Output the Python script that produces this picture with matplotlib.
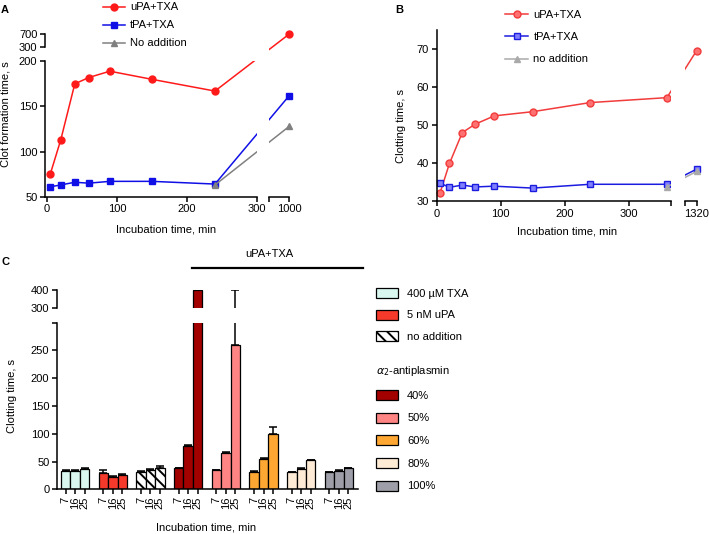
import numpy as np
import matplotlib

matplotlib.use("Agg")
import matplotlib.pyplot as plt  # noqa: E402
from matplotlib.lines import Line2D  # noqa: E402
from matplotlib.patches import Patch  # noqa: E402
from matplotlib.markers import TICKDOWN  # noqa: E402

plt.rcParams["font.family"] = ["Liberation Sans", "DejaVu Sans"]
plt.rcParams["font.size"] = 8
plt.rcParams["hatch.linewidth"] = 1.4
plt.rcParams["axes.linewidth"] = 1.1

W, H = 709, 534

# --- panel A: clot formation time ---
a_time = [5, 20, 40, 60, 90, 150, 240, 1000]
a_upa = [75, 113, 175, 182, 189, 180, 167, 700]
a_tpa = [61, 63, 66, 65, 67, 67, 64, 162]
a_none_time = [240, 1000]
a_none = [63, 128]

# --- panel B: clotting time ---
b_time = [5, 20, 40, 60, 90, 150, 240, 360, 1320]
b_upa = [32.0, 39.9, 48.0, 50.2, 52.4, 53.5, 55.9, 57.2, 69.6]
b_tpa = [34.7, 33.6, 34.2, 33.7, 33.9, 33.4, 34.4, 34.4, 38.4]
b_none_time = [360, 1320]
b_none = [33.7, 37.8]

# --- panel C: bars, 3 incubation times per group ---
c_times = ["7", "16", "25"]
c_groups = ["400 µM TXA", "5 nM uPA", "no addition", "40%", "50%", "60%", "80%", "100%"]
c_colors = ["#d9f7ee", "#f5392b", "white", "#a30000", "#ff8585", "#ffa733", "#fdebd5", "#9e9ea8"]
c_values = [
    [33, 33, 37],
    [30, 23, 26],
    [32, 35, 39],
    [38, 78, 400],
    [34, 65, 260],
    [32, 55, 100],
    [31, 37, 52],
    [31, 33, 38],
]
c_err = [
    [1, 1, 2],
    [5, 1, 1],
    [1, 1, 3],
    [1, 2, 0],
    [1, 2, 140],
    [1, 2, 12],
    [1, 1, 1],
    [1, 1, 1],
]

TICK_LEN, TICK_W, LW = 3.5, 1.1, 1.1
HATCH = "\\\\\\"


def brk(xs, ps):
    """piecewise linear scale for broken axes."""
    xs = np.asarray(xs, float)
    ps = np.asarray(ps, float)

    def fwd(v):
        return np.interp(np.asarray(v, float), xs, ps)

    def inv(p):
        return np.interp(np.asarray(p, float), ps, xs)

    return fwd, inv


def px_axes(fig, l, t, r, b):
    return fig.add_axes([l / W, 1 - b / H, (r - l) / W, (b - t) / H])


def style(ax):
    for s in ("top", "right"):
        ax.spines[s].set_visible(False)
    ax.tick_params(direction="out", length=TICK_LEN, width=TICK_W, pad=2, labelsize=8)


def xseg(ax, x0, x1):
    """extra bottom axis segment after a break."""
    tr = ax.get_xaxis_transform()
    ax.plot([x0, x1], [0, 0], color="k", lw=LW, transform=tr, clip_on=False, zorder=3)
    ax.plot([x0], [0], color="k", marker=TICKDOWN, ms=TICK_LEN, mew=TICK_W,
            transform=tr, clip_on=False, zorder=3)


fig = plt.figure(figsize=(W / 100, H / 100), dpi=100)

# ================= A =================
axA = px_axes(fig, 45, 34, 289.3, 196.7)
ax_fx, ax_ix = brk([-1e4, 300, 1e5], [-1e4, 300, 300 + (1e5 - 300) * 46 / 700])
ay_fx, ay_ix = brk([-1e4, 200, 300, 1e5], [-1e4, 200, 215.5, 215.5 + (1e5 - 300) * 0.03675])
axA.set_xscale("function", functions=(ax_fx, ax_ix))
axA.set_yscale("function", functions=(ay_fx, ay_ix))
axA.set_xlim(-2.5, 1000)
axA.set_ylim(50, 700)
style(axA)

la1, = axA.plot(a_time, a_upa, "-o", color="#ff1a1a", lw=1.1, ms=5, clip_on=False, label="uPA+TXA")
la2, = axA.plot(a_time, a_tpa, "-s", color="#1010e6", lw=1.1, ms=4.5, clip_on=False, label="tPA+TXA")
la3, = axA.plot(a_none_time, a_none, "-^", color="#808080", lw=1.1, ms=4.5, clip_on=False,
                label="No addition")

gapA = float(ax_ix(317.6))
axA.axvspan(300, gapA, color="white", lw=0, zorder=2.3)
axA.axhspan(200, 300, xmin=0, xmax=(317.6 + 2.5) / 348.5, color="white", lw=0, zorder=2.3)

axA.spines["left"].set_bounds(50, 200)
axA.spines["bottom"].set_bounds(-2.5, 300)
axA.plot([0, 0], [300, 700], color="k", lw=LW, transform=axA.get_yaxis_transform(),
         clip_on=False, zorder=3)
xseg(axA, gapA, 1000)
axA.set_xticks([0, 100, 200, 300, 1000])
axA.set_yticks([50, 100, 150, 200, 300, 700])

fig.legend(handles=[la1, la2, la3], loc="upper left", bbox_to_anchor=(103 / W, 1 - 2.5 / H),
           frameon=False, borderpad=0, borderaxespad=0, handlelength=2.0, handletextpad=0.45,
           labelspacing=0.72, fontsize=8)

fig.text(5.5 / W, 1 - 114.5 / H, "Clot formation time, s", rotation=90, ha="center", va="center")
fig.text(166 / W, 1 - 229 / H, "Incubation time, min", ha="center", va="center")

# ================= B =================
axB = px_axes(fig, 436.7, 30, 696.7, 201)
bx_fx, bx_ix = brk([-1e4, 370, 1e5], [-1e4, 370, 370 + (1e5 - 370) * 36.6 / 950])
axB.set_xscale("function", functions=(bx_fx, bx_ix))
axB.set_xlim(0, 1320)
axB.set_ylim(30, 75)
style(axB)

lb1, = axB.plot(b_time, b_upa, "-o", color="#f23b3b", mfc="#ff7070", lw=1.1, ms=5,
                clip_on=False, label="uPA+TXA")
lb2, = axB.plot(b_time, b_tpa, "-s", color="#1c1ce0", mfc="#8080ff", lw=1.1, ms=4.5,
                clip_on=False, label="tPA+TXA")
lb3, = axB.plot(b_none_time, b_none, "-^", color="#aaaaaa", lw=1.1, ms=4.5, clip_on=False,
                label="no addition")

gapB = float(bx_ix(387.8))
axB.axvspan(367, gapB, color="white", lw=0, zorder=2.3)
axB.spines["bottom"].set_bounds(0, 367)
axB.spines["left"].set_bounds(30, 75)
axB.plot([367], [0], color="k", marker=TICKDOWN, ms=TICK_LEN, mew=TICK_W,
         transform=axB.get_xaxis_transform(), clip_on=False, zorder=3)
xseg(axB, gapB, 1320)
axB.set_xticks([0, 100, 200, 300, 1320])
axB.set_yticks([30, 40, 50, 60, 70])

fig.legend(handles=[lb1, lb2, lb3], loc="upper left", bbox_to_anchor=(505 / W, 1 - 9.5 / H),
           frameon=False, borderpad=0, borderaxespad=0, handlelength=2.1, handletextpad=0.45,
           labelspacing=1.12, fontsize=8)

fig.text(401 / W, 1 - 126 / H, "Clotting time, s", rotation=90, ha="center", va="center")
fig.text(567 / W, 1 - 232 / H, "Incubation time, min", ha="center", va="center")

# ================= C =================
axC = px_axes(fig, 57, 322.7, 358.3, 489.3)
axCu = px_axes(fig, 57, 290, 358.3, 308.3)
xpos = [4 * i + j for i in range(len(c_groups)) for j in range(3)]

for ax in (axC, axCu):
    for i, (vals, errs) in enumerate(zip(c_values, c_err)):
        xs = [4 * i + j for j in range(3)]
        ax.bar(xs, vals, width=1.0, color=c_colors[i], edgecolor="k", lw=0.9,
               hatch=HATCH if c_groups[i] == "no addition" else None, zorder=2)
        ax.errorbar(xs, vals, yerr=[[0, 0, 0], errs], fmt="none", ecolor="k",
                    elinewidth=1.1, capsize=2.8, capthick=1.1, zorder=3)
    ax.set_xlim(-0.925, 31.06)
    style(ax)

axC.set_ylim(0, 300)
axC.set_yticks([0, 50, 100, 150, 200, 250, 300])
axC.set_yticklabels(["0", "50", "100", "150", "200", "250", ""])
axC.set_xticks(xpos)
axC.set_xticklabels(c_times * len(c_groups), rotation=90)

axCu.set_ylim(300, 402)
axCu.spines["left"].set_bounds(300, 400)
axCu.spines["bottom"].set_visible(False)
axCu.set_yticks([300, 400])
axCu.set_xticks([])

fig.add_artist(Line2D([192 / W, 363 / W], [1 - 268 / H] * 2, color="k", lw=1.6))
fig.text(269 / W, 1 - 254 / H, "uPA+TXA", ha="center", va="center")
fig.text(12 / W, 1 - 396 / H, "Clotting time, s", rotation=90, ha="center", va="center")
fig.text(206 / W, 1 - 527 / H, "Incubation time, min", ha="center", va="center")

h1 = [Patch(facecolor=c_colors[i], edgecolor="k", lw=0.9,
            hatch=HATCH if c_groups[i] == "no addition" else None, label=c_groups[i])
      for i in range(3)]
h2 = [Patch(facecolor=c_colors[i], edgecolor="k", lw=0.9, label=c_groups[i]) for i in range(3, 8)]
fig.legend(handles=h1, loc="upper left", bbox_to_anchor=(376 / W, 1 - 288 / H),
           frameon=False, borderpad=0, borderaxespad=0, handlelength=2.0, handleheight=1.0,
           handletextpad=0.8, labelspacing=0.98, fontsize=8)
fig.legend(handles=h2, loc="upper left", bbox_to_anchor=(376 / W, 1 - 364 / H),
           frameon=False, borderpad=0, borderaxespad=0, handlelength=2.0, handleheight=1.0,
           handletextpad=0.8, labelspacing=1.07, fontsize=8,
           title=r"$\alpha_2$-antiplasmin", title_fontsize=8, alignment="left")

fig.text(5 / W, 1 - 10 / H, "A", weight="bold", ha="center", va="center")
fig.text(399 / W, 1 - 10 / H, "B", weight="bold", ha="center", va="center")
fig.text(5 / W, 1 - 262 / H, "C", weight="bold", ha="center", va="center")

fig.savefig("out.png", dpi=100)
